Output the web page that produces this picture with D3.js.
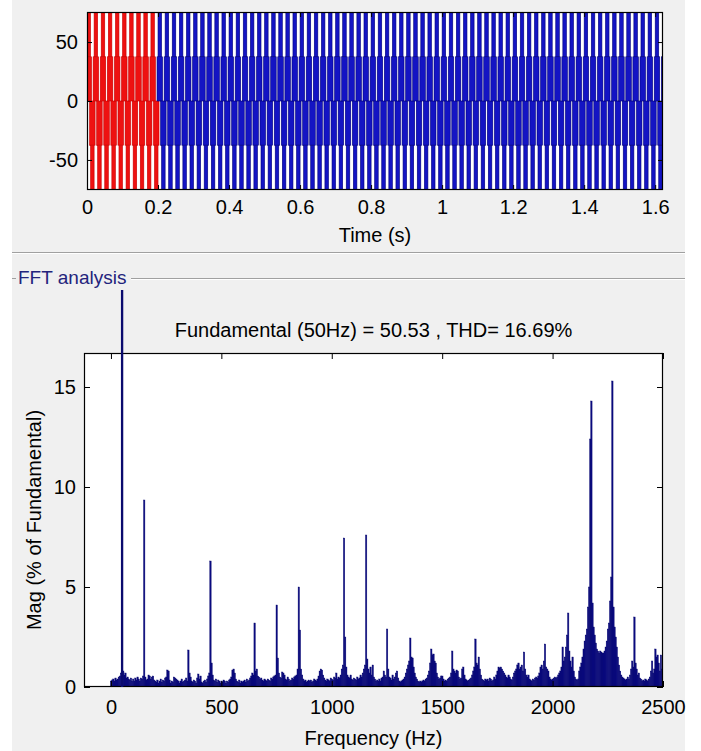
<!DOCTYPE html>
<html lang="en">
<meta charset="utf-8">
<head>
    <title>FFT analysis</title>
    <script src="https://d3js.org/d3.v7.min.js"></script>
    <style>
        body { margin: 0; background: #ffffff; }
        text { font-family: "Liberation Sans", Arial, sans-serif; }
    </style>
</head>
<body>
<script>
// ---- data ----

// signal panel
var timeTicks = [0, 0.2, 0.4, 0.6, 0.8, 1, 1.2, 1.4, 1.6];
var voltTicks = [-50, 0, 50];
var simTime = 1.622;          // s, right end of the time axis
var fundamentalHz = 50;
var fftWindow = [0, 0.2];     // s, highlighted in red
// level boundaries of the 5-level waveform (V)
var bandLevels = [[37.5, 75], [0, 37.5], [-37.5, 0], [-75, -37.5]];
// part of each 20 ms cycle where the band is filled by switching (fraction of cycle)
var bandPhase = [[0.0, 0.5], [-0.14, 0.64], [0.36, 1.14], [0.5, 1.0]];

// FFT panel
var freqTicks = [0, 500, 1000, 1500, 2000, 2500];
var magTicks = [0, 5, 10, 15];
var freqStep = 5;   // Hz between bars
var magPct = [
    // 0 - 95 Hz
    0.3, 0.35, 0.4, 0.3, 0.45, 0.35, 0.4, 0.5, 0.55, 0.7, 100, 0.8, 0.6, 0.7, 0.45, 0.5, 0.4, 0.35, 0.45, 0.3,
    // 100
    0.4, 0.3, 0.45, 0.35, 0.5, 0.4, 0.3, 0.45, 0.4, 0.55, 9.35, 0.5, 0.35, 0.4, 0.6, 0.55, 0.4, 0.5, 0.55, 0.35,
    // 200
    0.3, 0.25, 0.35, 0.2, 0.3, 0.4, 0.25, 0.35, 0.3, 0.45, 0.5, 0.85, 0.8, 0.35, 0.2, 0.3, 0.25, 0.5, 0.45, 0.4,
    // 300
    0.35, 0.3, 0.2, 0.3, 0.4, 0.25, 0.3, 0.35, 0.45, 0.3, 1.85, 0.7, 0.5, 0.3, 0.25, 0.35, 0.3, 0.2, 0.45, 0.65,
    // 400
    0.4, 0.55, 0.25, 0.2, 0.3, 0.35, 0.25, 0.4, 0.55, 0.7, 6.3, 1.2, 0.6, 0.35, 0.3, 0.4, 0.25, 0.35, 0.3, 0.2,
    // 500
    0.3, 0.25, 0.35, 0.3, 0.2, 0.3, 0.25, 0.35, 0.4, 0.5, 0.85, 0.9, 0.7, 0.4, 0.3, 0.25, 0.35, 0.2, 0.3, 0.25,
    // 600
    0.3, 0.35, 0.25, 0.4, 0.3, 0.35, 0.45, 0.55, 0.7, 0.6, 3.2, 0.8, 0.9, 0.55, 0.5, 0.4, 0.45, 0.35, 0.3, 0.4,
    // 700
    0.35, 0.3, 0.4, 0.35, 0.3, 0.45, 0.4, 0.5, 0.55, 0.6, 4.1, 1.45, 0.7, 0.5, 0.45, 0.75, 0.7, 0.6, 0.4, 0.35,
    // 800
    0.5, 0.4, 0.3, 0.35, 0.45, 0.4, 0.5, 0.55, 0.6, 0.9, 5.0, 2.85, 0.9, 0.6, 0.4, 0.3, 0.35, 0.25, 0.3, 0.35,
    // 900
    0.3, 0.35, 0.25, 0.3, 0.4, 0.35, 0.3, 0.4, 0.55, 0.8, 0.9, 0.85, 0.6, 0.45, 0.35, 0.3, 0.4, 0.35, 0.3, 0.45,
    // 1000
    0.4, 0.35, 0.5, 0.45, 0.7, 0.4, 0.5, 0.45, 0.6, 0.9, 1.1, 7.45, 2.5, 1.0, 0.6, 0.5, 0.45, 0.6, 0.4, 0.35,
    // 1100
    0.45, 0.4, 0.35, 0.5, 0.4, 0.45, 0.6, 0.5, 0.7, 0.9, 1.1, 7.6, 1.4, 0.9, 0.7, 1.0, 0.6, 1.1, 0.5, 0.4,
    // 1200
    0.3, 0.35, 0.3, 0.4, 0.3, 0.45, 0.5, 0.8, 0.6, 0.5, 2.9, 0.9, 0.5, 0.45, 0.35, 0.6, 0.4, 0.5, 0.7, 0.8,
    // 1300
    0.45, 0.3, 0.25, 0.3, 0.35, 0.4, 0.5, 0.7, 0.9, 1.1, 1.3, 2.45, 1.5, 1.45, 1.0, 0.7, 0.5, 0.4, 0.3, 0.25,
    // 1400
    0.3, 0.25, 0.3, 0.35, 0.3, 0.4, 0.45, 0.6, 0.8, 1.2, 1.9, 1.6, 1.65, 1.3, 1.2, 0.7, 0.5, 0.4, 0.45, 0.55,
    // 1500
    0.55, 0.4, 0.3, 0.35, 0.3, 0.4, 0.45, 0.5, 0.7, 1.8, 0.9, 0.8, 0.7, 0.85, 0.8, 0.5, 0.4, 0.45, 0.9, 1.0,
    // 1600
    0.6, 0.4, 0.35, 0.3, 0.35, 0.4, 0.45, 0.6, 0.8, 1.0, 2.4, 1.2, 1.1, 1.5, 0.9, 0.6, 0.4, 0.35, 0.3, 0.4,
    // 1700
    0.35, 0.4, 0.3, 0.45, 0.4, 0.3, 0.35, 0.5, 0.4, 0.6, 0.8, 1.0, 0.95, 1.0, 0.9, 0.8, 0.7, 0.6, 0.5, 0.45,
    // 1800
    0.6, 0.5, 0.4, 0.35, 0.5, 0.7, 0.8, 0.9, 1.1, 1.2, 0.9, 1.0, 1.1, 0.8, 1.75, 0.9, 0.6, 0.5, 0.6, 0.4,
    // 1900
    0.35, 0.3, 0.4, 0.35, 0.45, 0.5, 0.45, 0.55, 0.7, 1.0, 1.1, 0.9, 1.3, 2.15, 1.0, 0.9, 0.8, 0.5, 0.4, 0.35,
    // 2000
    0.4, 0.45, 0.5, 0.45, 0.5, 0.6, 0.7, 0.8, 1.0, 2.0, 1.3, 1.5, 2.0, 2.6, 3.7, 1.8, 1.3, 1.0, 1.5, 0.8,
    // 2100
    0.5, 0.4, 0.35, 0.4, 0.8, 1.0, 1.2, 1.5, 1.9, 2.3, 2.6, 2.9, 4.0, 5.0, 12.4, 14.3, 4.2, 3.0, 2.6, 2.2,
    // 2200
    1.9, 1.8, 1.7, 1.8, 1.75, 1.7, 1.7, 1.8, 2.0, 2.3, 2.9, 3.2, 4.3, 5.5, 15.3, 4.0, 3.0, 2.5, 2.0, 1.5,
    // 2300
    1.1, 0.8, 0.6, 0.5, 0.45, 0.4, 0.35, 0.4, 0.5, 0.4, 0.6, 0.9, 1.3, 1.0, 3.5, 1.2, 0.9, 0.6, 0.7, 0.45,
    // 2400
    0.4, 0.3, 0.35, 0.3, 0.4, 0.35, 0.3, 0.4, 0.5, 0.8, 1.3, 0.7, 0.9, 1.9, 1.5, 1.6, 1.2, 0.8, 1.6, 0.9,
    // 2500
    0.6
];

// ---- drawing ----
var W = 701, H = 751;
var svg = d3.select("body").append("svg")
    .attr("width", W)
    .attr("height", H);

// figure background (white border, grey panel)
svg.append("rect").attr("width", W).attr("height", H).attr("fill", "#ffffff");
svg.append("rect").attr("x", 12).attr("y", 0).attr("width", 673).attr("height", H).attr("fill", "#f0f0f0");

var fontSize = "20px";
var plain = function (d) { return String(d); };   // hyphen minus like MATLAB

// ===== top plot: signal =====
var sig = { left: 87, top: 12, right: 663, bottom: 190 };
var tx = d3.scaleLinear().domain([0, simTime]).range([sig.left, sig.right]);
var ty = d3.scaleLinear().domain([-75.5, 75.5]).range([sig.bottom, sig.top]);

svg.append("rect")
    .attr("x", sig.left).attr("y", sig.top)
    .attr("width", sig.right - sig.left).attr("height", sig.bottom - sig.top)
    .attr("fill", "#ffffff");

svg.append("clipPath").attr("id", "clipTop")
    .append("rect")
    .attr("x", sig.left).attr("y", sig.top)
    .attr("width", sig.right - sig.left).attr("height", sig.bottom - sig.top);

var period = 1 / fundamentalHz;
var cycles = d3.range(0, Math.ceil(simTime / period) + 1);
var pieces = [];
cycles.forEach(function (k) {
    bandLevels.forEach(function (lv, i) {
        var t0 = (k + bandPhase[i][0]) * period;
        var t1 = (k + bandPhase[i][1]) * period;
        pieces.push({ t0: t0, t1: t1, lo: lv[0], hi: lv[1], inWin: (k * period) < fftWindow[1] - 1e-9 });
    });
});

svg.append("g").attr("clip-path", "url(#clipTop)")
    .selectAll("rect")
    .data(pieces)
    .join("rect")
    .attr("x", function (d) { return tx(d.t0); })
    .attr("width", function (d) { return tx(d.t1) - tx(d.t0); })
    .attr("y", function (d) { return ty(d.hi); })
    .attr("height", function (d) { return ty(d.lo) - ty(d.hi); })
    .attr("fill", function (d) { return d.inWin ? "#ee1111" : "#1414c4"; })
    .attr("stroke", function (d) { return d.inWin ? "#c80000" : "#00007c"; })
    .attr("stroke-width", 0.6);

// axes of top plot (ticks inside, box)
svg.append("g").attr("transform", "translate(" + sig.left + ",0)")
    .call(d3.axisLeft(ty).tickValues(voltTicks).tickSizeInner(-5).tickSizeOuter(0).tickPadding(9)
        .tickFormat(plain));
svg.append("g").attr("transform", "translate(" + sig.right + ",0)")
    .call(d3.axisRight(ty).tickValues(voltTicks).tickSizeInner(-5).tickSizeOuter(0).tickFormat(""));
svg.append("g").attr("transform", "translate(0," + sig.bottom + ")")
    .call(d3.axisBottom(tx).tickValues(timeTicks).tickSizeInner(-5).tickSizeOuter(0).tickPadding(10)
        .tickFormat(plain));
svg.append("g").attr("transform", "translate(0," + sig.top + ")")
    .call(d3.axisTop(tx).tickValues(timeTicks).tickSizeInner(-5).tickSizeOuter(0).tickFormat(""));

svg.append("rect")
    .attr("x", sig.left + 0.5).attr("y", sig.top + 0.5)
    .attr("width", sig.right - sig.left - 1).attr("height", sig.bottom - sig.top - 1)
    .attr("fill", "none").attr("stroke", "#000000").attr("stroke-width", 1.2);

svg.append("text")
    .attr("x", (sig.left + sig.right) / 2).attr("y", 242)
    .attr("text-anchor", "middle")
    .style("font-size", fontSize)
    .text("Time (s)");

// separator between the two panels
svg.append("line").attr("x1", 12).attr("x2", 685).attr("y1", 252.5).attr("y2", 252.5)
    .attr("stroke", "#a0a0a0");
svg.append("line").attr("x1", 12).attr("x2", 685).attr("y1", 253.5).attr("y2", 253.5)
    .attr("stroke", "#ffffff");

// group box title "FFT analysis"
svg.append("line").attr("x1", 12).attr("x2", 16).attr("y1", 278.5).attr("y2", 278.5)
    .attr("stroke", "#a0a0a0");
svg.append("line").attr("x1", 131).attr("x2", 685).attr("y1", 278.5).attr("y2", 278.5)
    .attr("stroke", "#a0a0a0");
svg.append("line").attr("x1", 131).attr("x2", 685).attr("y1", 279.5).attr("y2", 279.5)
    .attr("stroke", "#ffffff");
svg.append("text")
    .attr("x", 18).attr("y", 284)
    .style("font-size", "19px")
    .attr("fill", "#23237c")
    .text("FFT analysis");

// ===== bottom plot: FFT bars =====
var bot = { left: 84, top: 353, right: 663, bottom: 687, clipTop: 290 };
var fx = d3.scaleLinear().domain([-122, 2500]).range([bot.left, bot.right]);
var fy = d3.scaleLinear().domain([0, 16.7]).range([bot.bottom, bot.top]);

svg.append("rect")
    .attr("x", bot.left).attr("y", bot.top)
    .attr("width", bot.right - bot.left).attr("height", bot.bottom - bot.top)
    .attr("fill", "#ffffff");

svg.append("text")
    .attr("x", (bot.left + bot.right) / 2).attr("y", 337)
    .attr("text-anchor", "middle")
    .style("font-size", fontSize)
    .text("Fundamental (50Hz) = 50.53 , THD= 16.69%");

svg.append("clipPath").attr("id", "clipBot")
    .append("rect")
    .attr("x", bot.left).attr("y", bot.clipTop)
    .attr("width", bot.right - bot.left).attr("height", bot.bottom - bot.clipTop);

var bars = magPct.map(function (v, i) { return { f: i * freqStep, v: v }; });
var barW = fx(freqStep) - fx(0);

svg.append("g").attr("clip-path", "url(#clipBot)")
    .selectAll("rect")
    .data(bars)
    .join("rect")
    .attr("x", function (d) { return fx(d.f - freqStep / 2); })
    .attr("width", barW + 0.3)
    .attr("y", function (d) { return fy(d.v); })
    .attr("height", function (d) { return fy(0) - fy(d.v); })
    .attr("fill", "#0a0a80")
    .attr("stroke", "#0a0a70")
    .attr("stroke-width", 0.4);

svg.append("g").attr("transform", "translate(" + bot.left + ",0)")
    .call(d3.axisLeft(fy).tickValues(magTicks).tickSizeInner(-6).tickSizeOuter(0).tickPadding(8));
svg.append("g").attr("transform", "translate(" + bot.right + ",0)")
    .call(d3.axisRight(fy).tickValues(magTicks).tickSizeInner(-6).tickSizeOuter(0).tickFormat(""));
svg.append("g").attr("transform", "translate(0," + bot.bottom + ")")
    .call(d3.axisBottom(fx).tickValues(freqTicks).tickSizeInner(-6).tickSizeOuter(0).tickPadding(13)
        .tickFormat(d3.format("d")));
svg.append("g").attr("transform", "translate(0," + bot.top + ")")
    .call(d3.axisTop(fx).tickValues(freqTicks).tickSizeInner(-6).tickSizeOuter(0).tickFormat(""));

svg.append("rect")
    .attr("x", bot.left + 0.5).attr("y", bot.top + 0.5)
    .attr("width", bot.right - bot.left - 1).attr("height", bot.bottom - bot.top - 1)
    .attr("fill", "none").attr("stroke", "#000000").attr("stroke-width", 1.2);

// fundamental bar is drawn over the top of the box, as in the original
svg.append("g").attr("clip-path", "url(#clipBot)")
    .selectAll("rect")
    .data(bars.filter(function (d) { return d.v > 16.7; }))
    .join("rect")
    .attr("x", function (d) { return fx(d.f - freqStep / 2) - 0.5; })
    .attr("width", barW + 1.2)
    .attr("y", function (d) { return fy(d.v); })
    .attr("height", function (d) { return fy(0) - fy(d.v); })
    .attr("fill", "#0a0a6e");

svg.append("text")
    .attr("transform", "translate(41," + ((bot.top + bot.bottom) / 2) + ") rotate(-90)")
    .attr("text-anchor", "middle")
    .style("font-size", fontSize)
    .text("Mag (% of Fundamental)");

svg.append("text")
    .attr("x", (bot.left + bot.right) / 2).attr("y", 745)
    .attr("text-anchor", "middle")
    .style("font-size", fontSize)
    .text("Frequency (Hz)");

// axis text style
svg.selectAll(".tick text").style("font-size", fontSize).attr("fill", "#000000")
    .style("font-family", "'Liberation Sans', Arial, sans-serif");
svg.selectAll(".tick line").attr("stroke", "#000000");
svg.selectAll(".domain").remove();
</script>
</body>
</html>
